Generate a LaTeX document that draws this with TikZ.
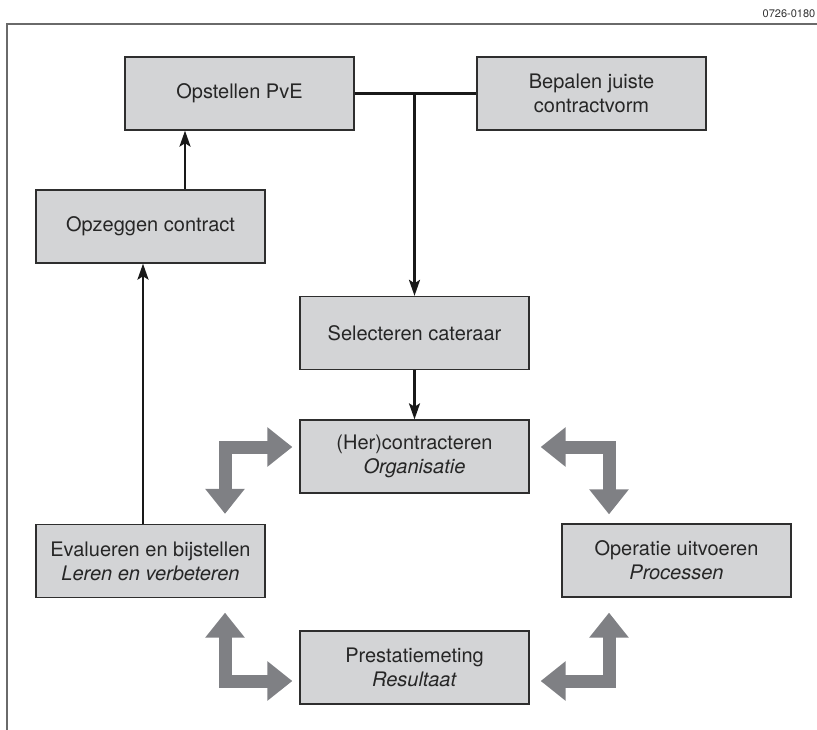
\documentclass[tikz,border=0pt]{standalone}
\usepackage{fontspec}
\setmainfont{TeX Gyre Heros}
\usetikzlibrary{positioning,arrows.meta}
\definecolor{boxfill}{HTML}{D3D4D6}
\definecolor{boxline}{HTML}{2E2E2E}
\definecolor{cyclegray}{HTML}{7F8084}
\definecolor{framegray}{HTML}{6A6A6A}

\begin{document}
\begin{tikzpicture}[x=1pt, y=-1pt,
                      box/.style = {shape=rectangle, draw=boxline,
                        line width=1.3pt, fill=boxfill, align=center,
                        text=black!85, inner sep=0pt,
                        minimum width=229pt, minimum height=73pt,
                        font=\fontsize{20}{24}\selectfont},
                      flow/.style = {line width=2.7pt, black!90,
                        -{Stealth[length=16pt,width=11pt,inset=3.5pt]}},
                      cyclearrow/.style = {line width=13pt, cyclegray,
                        line join=miter,
                        {Triangle[length=25pt,width=38pt]}-{Triangle[length=25pt,width=38pt]}}]
                      \useasboundingbox (0,0) rectangle (817,730);
                      \draw[framegray, line width=2pt] (817,24) -- (7,24) -- (7,730);
                      \node[anchor=base east, text=black!80, inner sep=0pt,
                        font=\fontsize{11}{13}\selectfont] (code) at (815.5,17.5) {0726-0180};

                      \node[box] (pve)   at (239.5,93.5) {Opstellen PvE};
                      \node[box] (vorm)  at (591.5,93.5) {Bepalen juiste\\contractvorm};
                      \node[box] (opzeg) at (150.5,226.5) {Opzeggen contract};
                      \node[box] (sel)   at (414.5,333) {Selecteren cateraar};
                      \node[box] (her)   at (414.5,456.5) {(Her)contracteren\\\textit{Organisatie}};
                      \node[box] (eval)  at (150.5,561) {Evalueren en bijstellen\\\textit{Leren en verbeteren}};
                      \node[box] (oper)  at (676.5,560.5) {Operatie uitvoeren\\\textit{Processen}};
                      \node[box] (prest) at (414.5,667.5) {Prestatiemeting\\\textit{Resultaat}};

                      \coordinate (split) at (sel.north |- pve.east);
                      \draw[line width=2.7pt, black!90] (pve) -- (vorm);
                      \draw[flow] (split) -- (sel);
                      \draw[flow] (sel) -- (her);
                      \draw[flow] ([xshift=34.5pt]opzeg.north) -- ([xshift=34.5pt]opzeg.north |- pve.south);
                      \draw[flow] ([xshift=-7.5pt]eval.north) -- ([xshift=-7.5pt]eval.north |- opzeg.south);

                      \coordinate (tl) at ([shift={(74.5,-10)}]eval.north);
                      \coordinate (tlh) at ([shift={(-7,-9.5)}]her.west);
                      \coordinate (trh) at ([shift={(11,-9.5)}]her.east);
                      \coordinate (tr) at ([shift={(-67.5,-9)}]oper.north);
                      \coordinate (bl) at ([shift={(74.5,14.5)}]eval.south);
                      \coordinate (blh) at ([shift={(-7,13.5)}]prest.west);
                      \coordinate (brh) at ([shift={(11,13.5)}]prest.east);
                      \coordinate (br) at ([shift={(-67.5,15)}]oper.south);
                      \draw[cyclearrow] (tl) |- (tlh);
                      \draw[cyclearrow] (trh) -| (tr);
                      \draw[cyclearrow] (bl) |- (blh);
                      \draw[cyclearrow] (brh) -| (br);
                    \end{tikzpicture}
\end{document}
